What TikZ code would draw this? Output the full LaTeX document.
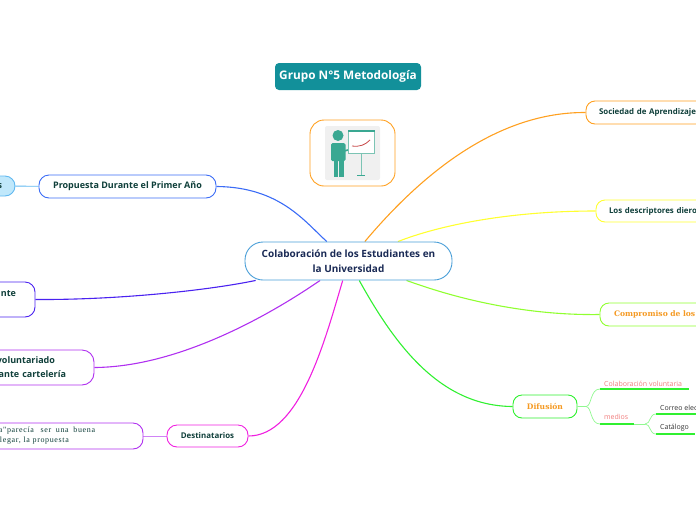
\documentclass[tikz,border=0pt]{standalone}
\usepackage{fontspec}
\setmainfont{Open Sans}
\newfontfamily\serifnote[LetterSpace=8]{Liberation Serif}
\newfontfamily\fancyfont{DejaVu Serif}
\usetikzlibrary{positioning,calc,backgrounds}
\definecolor{inktext}{HTML}{0F3F3A}
\definecolor{hubtext}{HTML}{1A2A55}
\definecolor{titleteal}{HTML}{12909A}
\definecolor{figteal}{HTML}{3AA892}
\definecolor{boardteal}{HTML}{7CC4B4}
\definecolor{salmon}{HTML}{F07C7C}
\definecolor{hubblue}{HTML}{4A9FD8}
\definecolor{skyblue}{HTML}{60B8F0}
\definecolor{skyfill}{HTML}{C0E8FB}
\definecolor{royal}{HTML}{3B6CF6}
\definecolor{indigo}{HTML}{4A22F0}
\definecolor{violetline}{HTML}{B030F0}
\definecolor{pinkline}{HTML}{F020E0}
\definecolor{orangeline}{HTML}{FFA020}
\definecolor{yellowline}{HTML}{FFFF30}
\definecolor{limeline}{HTML}{90FF30}
\definecolor{greenline}{HTML}{30F030}
\definecolor{paleline}{HTML}{90F890}
\definecolor{textorange}{HTML}{F59A23}

\begin{document}
\begin{tikzpicture}[x=1pt,y=-1pt]
    % Define styles
    \tikzstyle{topic}=[draw,fill=white,rounded corners=10pt,line width=0.9pt,inner sep=0pt,
        text=inktext,font=\bfseries\fontsize{9}{14}\selectfont,align=center]
    \tikzstyle{sidetopic}=[topic,minimum width=180pt,text width=154pt,align=left,
        rounded corners=9pt,font=\bfseries\fontsize{7.9}{10}\selectfont]
    \tikzstyle{fancy}=[text=textorange,font=\fancyfont\bfseries\fontsize{7.6}{10}\selectfont]
    \tikzstyle{branch}=[line width=1.1pt]
    \tikzstyle{twig}=[paleline,line width=0.7pt]
    \tikzstyle{leaf}=[anchor=south west,inner sep=1pt,font=\fontsize{7}{9}\selectfont]

    \useasboundingbox (0,0) rectangle (696,520);
    \clip (0,0) rectangle (696,520);

    % Title and central topic
    \node[fill=titleteal,rounded corners=4pt,minimum width=146pt,minimum height=27pt,inner sep=0pt,
        text=white,font=\bfseries\fontsize{11.8}{12}\selectfont] (title) at (348,76.5) {Grupo N°5 Metodología};
    \node[topic,draw=hubblue,minimum width=207pt,minimum height=38pt,rounded corners=18pt,
        text=hubtext,font=\bfseries\fontsize{10}{14.5}\selectfont] (ctr) at (348.5,261)
        {Colaboración de los Estudiantes en\\la Universidad};

    % Picture box
    \node[draw=orangeline,line width=0.9pt,rounded corners=14pt,minimum width=85pt,minimum height=66pt] (picbox) at (352.5,153) {};
    \node[fill=black!6,rounded corners=2pt,minimum width=55pt,minimum height=54pt] (picbg) at (352.5,153) {};
    \fill[figteal] (338,135.5) circle (5.5pt);
    \fill[figteal,rounded corners=1.5pt] (331,143) rectangle (345.5,161);
    \fill[figteal] (333.5,160) rectangle (338,176.5);
    \fill[figteal] (339,160) rectangle (343.5,176.5);
    \draw[figteal,line width=1.6pt] (344,151) -- (352,149);
    \draw[boardteal,line width=0.8pt,fill=white] (348.5,131) rectangle (374.5,153);
    \draw[figteal,line width=2pt] (348,131) -- (375,131);
    \draw[boardteal,line width=1pt] (361,153) -- (361,175);
    \draw[figteal,line width=1.5pt] (357,175.5) -- (365,175.5);
    \draw[red!70!black!70,line width=0.8pt] (352,146) .. controls (360,147) and (365,145) .. (370,140);

    % Left side
    \node[topic,draw=royal,minimum width=177pt,minimum height=23pt] (prop) at (127.5,186.5) {Propuesta Durante el Primer Año};
    \node[topic,draw=skyblue,fill=skyfill,minimum width=60pt,minimum height=20pt,text width=34pt,align=right] (propsub) at (-15,186) {s};
    \node[topic,draw=indigo,minimum width=95pt,minimum height=35pt,text width=57pt,align=right] (nte) at (-12.5,299.5) {nte\\[-7pt]\strut};
    \node[topic,draw=violetline,minimum width=164pt,minimum height=35pt,rounded corners=12pt,text width=108pt,align=right] (vol) at (12,367.5)
        {\mbox{voluntariado\hspace{11pt}}\\ante cartelería};
    \node[topic,draw=violetline,minimum width=213pt,minimum height=26pt,font=\serifnote\fontsize{8}{10}\selectfont,text width=205pt,align=left] (dest) at (36.5,436)
        {\hspace*{65pt}a"parecía\hspace{4pt} ser\hspace{2pt} una\hspace{2pt} buena\\\hspace*{66pt}legar, la propuesta};
    \node[topic,draw=pinkline,minimum width=81pt,minimum height=22pt,font=\bfseries\fontsize{7.9}{10}\selectfont] (destin) at (207.5,436) {Destinatarios};

    % Right side
    \node[sidetopic,draw=orangeline,minimum height=23pt] (soc) at (676,112.5) {Sociedad de Aprendizaje};
    \node[sidetopic,draw=yellowline,minimum height=22pt] (desc) at (686,211) {Los descriptores dieron};
    \node[sidetopic,fancy,draw=limeline,minimum height=23pt,text width=152pt] (comp) at (690,314.5) {Compromiso de los};
    \node[topic,fancy,draw=greenline,minimum width=64pt,minimum height=23pt,rounded corners=9pt] (dif) at (545,406.5) {Difusión};

    % Small items under Difusion
    \coordinate (colL) at (600,389);
    \coordinate (colR) at (689,389);
    \coordinate (medL) at (600,424);
    \coordinate (medR) at (634,424);
    \coordinate (medE) at (645,424);
    \coordinate (corL) at (656,414);
    \coordinate (corR) at (700,414);
    \coordinate (catL) at (656,434);
    \coordinate (catR) at (695,434);
    \coordinate (fork) at (586,406.5);
    \node[leaf,text=salmon] (coltext) at ([xshift=3pt,yshift=1pt]colL) {Colaboración voluntaria};
    \node[leaf,text=salmon] (medtext) at ([xshift=3pt,yshift=3pt]medL) {medios};
    \node[leaf,text=black!80] (cortext) at ([xshift=3pt,yshift=2pt]corL) {Correo electrónico};
    \node[leaf,text=black!80] (cattext) at ([xshift=3pt,yshift=2pt]catL) {Catálogo};
    \foreach \a/\b in {colL/colR,medL/medR,corL/corR,catL/catR} {
        \draw[greenline,line width=1.1pt] (\a) -- (\b);
    }
    \draw[twig] (medR) -- (medE);
    \draw[twig] (dif.east) -- (fork) .. controls (592,406) and (590,389) .. (colL);
    \draw[twig] (fork) .. controls (592,407) and (590,424) .. (medL);
    \draw[twig] (medE) .. controls (651,424) and (649,414) .. (corL);
    \draw[twig] (medE) .. controls (651,424) and (649,434) .. (catL);

    % Draw connections
    \begin{scope}[on background layer]
        \draw[branch,royal] (ctr) .. controls (305,222) and (280,187) .. (prop.east);
        \draw[branch,indigo] (ctr) .. controls (210,290) and (120,300) .. (nte.east);
        \draw[branch,violetline] (ctr) .. controls (255,325) and (170,367) .. (vol.east);
        \draw[branch,pinkline] (ctr) .. controls (325,340) and (300,436) .. (destin.east);
        \draw[branch,orangeline] (ctr) .. controls (425,170) and (500,112) .. (soc.west);
        \draw[branch,yellowline] (ctr) .. controls (440,225) and (510,211) .. (desc.west);
        \draw[branch,limeline] (ctr) .. controls (420,285) and (500,316) .. (comp.west);
        \draw[branch,greenline] (ctr) .. controls (395,345) and (440,406) .. (dif.west);
        \draw[skyblue,line width=0.8pt] (prop) -- (propsub);
        \draw[violetline!60,line width=0.8pt] (destin) -- (dest);
    \end{scope}
\end{tikzpicture}
\end{document}
